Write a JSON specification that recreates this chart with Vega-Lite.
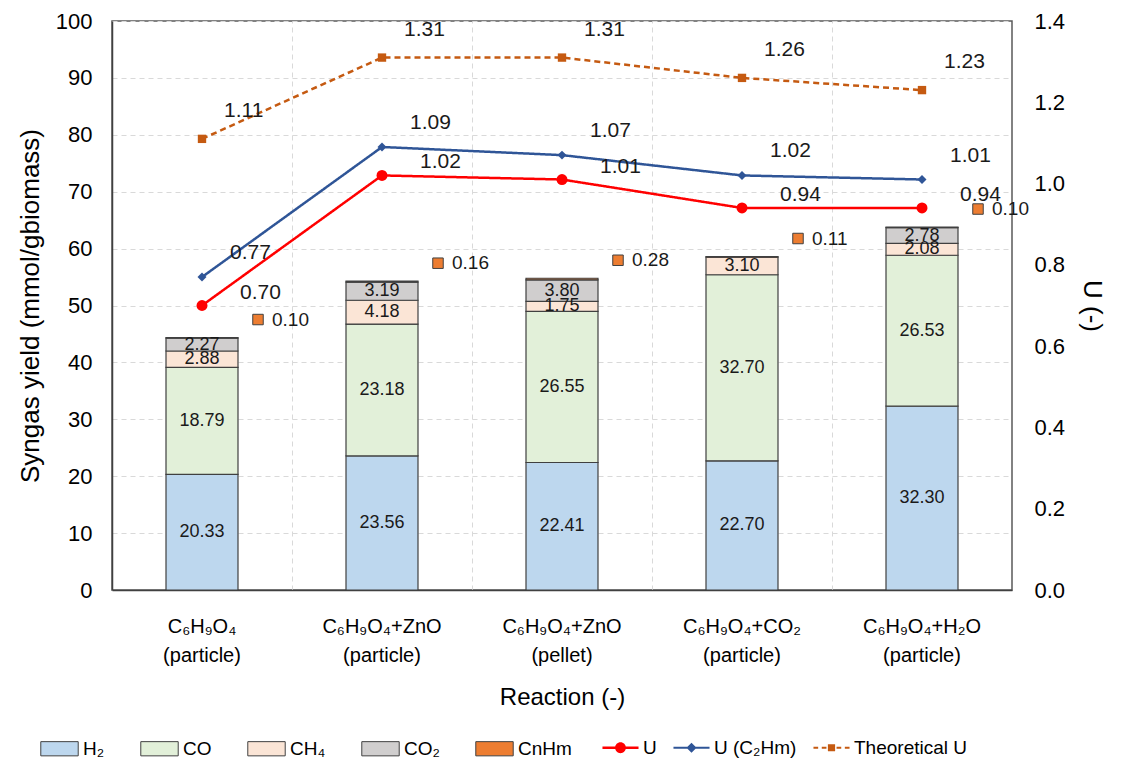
{
  "$schema": "https://vega.github.io/schema/vega-lite/v6.json",
  "width": 900,
  "height": 569,
  "padding": {"left": 17, "top": 10, "right": 10, "bottom": 5},
  "config": {
    "view": {"stroke": "#595959", "strokeWidth": 1.5},
    "font": "Liberation Sans",
    "axis": {"labelFont": "Liberation Sans", "titleFont": "Liberation Sans", "labelColor": "#000000", "titleColor": "#000000", "titleFontWeight": "normal"},
    "legend": {"labelFont": "Liberation Sans", "labelFontSize": 19, "labelColor": "#000000", "direction": "horizontal", "title": null, "labelOffset": 4}
  },
  "datasets": {
    "bars": [
      {"cat": "C₆H₉O₄\n(particle)", "comp": "H₂", "v": 20.33},
      {"cat": "C₆H₉O₄\n(particle)", "comp": "CO", "v": 18.79},
      {"cat": "C₆H₉O₄\n(particle)", "comp": "CH₄", "v": 2.88},
      {"cat": "C₆H₉O₄\n(particle)", "comp": "CO₂", "v": 2.27},
      {"cat": "C₆H₉O₄\n(particle)", "comp": "CnHm", "v": 0.10},
      {"cat": "C₆H₉O₄+ZnO\n(particle)", "comp": "H₂", "v": 23.56},
      {"cat": "C₆H₉O₄+ZnO\n(particle)", "comp": "CO", "v": 23.18},
      {"cat": "C₆H₉O₄+ZnO\n(particle)", "comp": "CH₄", "v": 4.18},
      {"cat": "C₆H₉O₄+ZnO\n(particle)", "comp": "CO₂", "v": 3.19},
      {"cat": "C₆H₉O₄+ZnO\n(particle)", "comp": "CnHm", "v": 0.16},
      {"cat": "C₆H₉O₄+ZnO\n(pellet)", "comp": "H₂", "v": 22.41},
      {"cat": "C₆H₉O₄+ZnO\n(pellet)", "comp": "CO", "v": 26.55},
      {"cat": "C₆H₉O₄+ZnO\n(pellet)", "comp": "CH₄", "v": 1.75},
      {"cat": "C₆H₉O₄+ZnO\n(pellet)", "comp": "CO₂", "v": 3.80},
      {"cat": "C₆H₉O₄+ZnO\n(pellet)", "comp": "CnHm", "v": 0.28},
      {"cat": "C₆H₉O₄+CO₂\n(particle)", "comp": "H₂", "v": 22.70},
      {"cat": "C₆H₉O₄+CO₂\n(particle)", "comp": "CO", "v": 32.70},
      {"cat": "C₆H₉O₄+CO₂\n(particle)", "comp": "CH₄", "v": 3.10},
      {"cat": "C₆H₉O₄+CO₂\n(particle)", "comp": "CO₂", "v": 0},
      {"cat": "C₆H₉O₄+CO₂\n(particle)", "comp": "CnHm", "v": 0.11},
      {"cat": "C₆H₉O₄+H₂O\n(particle)", "comp": "H₂", "v": 32.30},
      {"cat": "C₆H₉O₄+H₂O\n(particle)", "comp": "CO", "v": 26.53},
      {"cat": "C₆H₉O₄+H₂O\n(particle)", "comp": "CH₄", "v": 2.08},
      {"cat": "C₆H₉O₄+H₂O\n(particle)", "comp": "CO₂", "v": 2.78},
      {"cat": "C₆H₉O₄+H₂O\n(particle)", "comp": "CnHm", "v": 0.10}
    ],
    "lines": [
      {"cat": "C₆H₉O₄\n(particle)", "series": "U", "u": 0.70},
      {"cat": "C₆H₉O₄+ZnO\n(particle)", "series": "U", "u": 1.02},
      {"cat": "C₆H₉O₄+ZnO\n(pellet)", "series": "U", "u": 1.01},
      {"cat": "C₆H₉O₄+CO₂\n(particle)", "series": "U", "u": 0.94},
      {"cat": "C₆H₉O₄+H₂O\n(particle)", "series": "U", "u": 0.94},
      {"cat": "C₆H₉O₄\n(particle)", "series": "U (C₂Hm)", "u": 0.77},
      {"cat": "C₆H₉O₄+ZnO\n(particle)", "series": "U (C₂Hm)", "u": 1.09},
      {"cat": "C₆H₉O₄+ZnO\n(pellet)", "series": "U (C₂Hm)", "u": 1.07},
      {"cat": "C₆H₉O₄+CO₂\n(particle)", "series": "U (C₂Hm)", "u": 1.02},
      {"cat": "C₆H₉O₄+H₂O\n(particle)", "series": "U (C₂Hm)", "u": 1.01},
      {"cat": "C₆H₉O₄\n(particle)", "series": "Theoretical U", "u": 1.11},
      {"cat": "C₆H₉O₄+ZnO\n(particle)", "series": "Theoretical U", "u": 1.31},
      {"cat": "C₆H₉O₄+ZnO\n(pellet)", "series": "Theoretical U", "u": 1.31},
      {"cat": "C₆H₉O₄+CO₂\n(particle)", "series": "Theoretical U", "u": 1.26},
      {"cat": "C₆H₉O₄+H₂O\n(particle)", "series": "Theoretical U", "u": 1.23}
    ]
  },
  "layer": [
    {
      "data": {"name": "bars"},
      "transform": [
        {"calculate": "indexof(['H₂','CO','CH₄','CO₂','CnHm'], datum.comp)", "as": "k"},
        {"stack": "v", "groupby": ["cat"], "sort": [{"field": "k", "order": "ascending"}], "as": ["y0", "y1"]},
        {"calculate": "(datum.y0 + datum.y1) / 2", "as": "ym"}
      ],
      "layer": [
        {
          "mark": {"type": "bar", "size": 72, "stroke": "#404040", "strokeWidth": 1.2},
          "encoding": {
            "x": {"field": "cat", "type": "nominal", "sort": null,
              "scale": {"paddingInner": 0, "paddingOuter": 0},
              "axis": {"labelExpr": "split(datum.label, '\\n')", "labelAngle": 0, "labelFont": "Liberation Sans", "labelFontSize": 20, "labelPadding": 26, "labelLineHeight": 29, "ticks": false, "domainColor": "#404040", "domainWidth": 1.5, "title": "Reaction (-)", "titleFont": "Liberation Sans", "titleFontSize": 24, "titlePadding": 20, "grid": false}},
            "y": {"field": "y0", "type": "quantitative",
              "scale": {"domain": [0, 100], "nice": false},
              "axis": {"title": "Syngas yield (mmol/gbiomass)", "values": [0, 10, 20, 30, 40, 50, 60, 70, 80, 90, 100], "grid": true, "gridDash": [5, 4], "gridColor": "#D9D9D9", "domainColor": "#404040", "domainWidth": 1.5, "ticks": false, "labelFontSize": 22, "labelPadding": 20, "titleFontSize": 26, "titlePadding": 12}},
            "y2": {"field": "y1"},
            "color": {"field": "comp", "type": "nominal",
              "scale": {"domain": ["H₂", "CO", "CH₄", "CO₂", "CnHm"], "range": ["#BDD7EE", "#E2F0D9", "#FBE5D6", "#D0CECE", "#ED7D31"]},
              "legend": {"orient": "none", "legendX": -72, "legendY": 708, "direction": "horizontal", "columns": 5, "columnPadding": 33, "symbolType": "M-1,-0.38H1V0.38H-1Z", "symbolSize": 1400, "symbolStrokeColor": "#404040", "symbolStrokeWidth": 1, "symbolOpacity": 1}}
          }
        },
        {
          "transform": [{"filter": "datum.comp !== 'CnHm' && datum.v > 0"}],
          "mark": {"type": "text", "fontSize": 18, "color": "#1a1a1a"},
          "encoding": {
            "x": {"field": "cat", "type": "nominal", "sort": null},
            "y": {"field": "ym", "type": "quantitative"},
            "text": {"field": "v", "type": "quantitative", "format": ".2f"}
          }
        },
        {
          "transform": [{"filter": "datum.comp === 'CnHm'"}],
          "mark": {"type": "point", "shape": "square", "filled": true, "size": 110, "color": "#ED7D31", "stroke": "#404040", "strokeWidth": 1, "opacity": 1, "xOffset": 56, "yOffset": -18},
          "encoding": {
            "x": {"field": "cat", "type": "nominal", "sort": null},
            "y": {"field": "y1", "type": "quantitative"}
          }
        },
        {
          "transform": [{"filter": "datum.comp === 'CnHm'"}],
          "mark": {"type": "text", "fontSize": 19, "align": "left", "dx": 70, "dy": -18, "color": "#1a1a1a"},
          "encoding": {
            "x": {"field": "cat", "type": "nominal", "sort": null},
            "y": {"field": "y1", "type": "quantitative"},
            "text": {"field": "v", "type": "quantitative", "format": ".2f"}
          }
        }
      ]
    },
    {
      "data": {"name": "lines"},
      "layer": [
        {
          "mark": {"type": "line", "strokeWidth": 2.5},
          "encoding": {
            "x": {"field": "cat", "type": "nominal", "sort": null,
              "axis": {"grid": true, "bandPosition": 0, "gridDash": [5, 4], "gridColor": "#D9D9D9", "labels": false, "ticks": false, "domain": false, "title": null}},
            "y": {"field": "u", "type": "quantitative",
              "scale": {"domain": [0, 1.4], "nice": false},
              "axis": {"orient": "right", "title": "U (-)", "values": [0, 0.2, 0.4, 0.6, 0.8, 1.0, 1.2, 1.4], "format": ".1f", "grid": false, "ticks": false, "domain": false, "labelFontSize": 22, "labelPadding": 22, "titleFontSize": 26, "titlePadding": 14}},
            "color": {"field": "series", "type": "nominal",
              "scale": {"domain": ["U", "U (C₂Hm)", "Theoretical U"], "range": ["#FF0000", "#2F5597", "#C55A11"]},
              "legend": {"orient": "none", "legendX": 490, "legendY": 708, "direction": "horizontal", "columns": 3, "columnPadding": 16, "symbolSize": 1300, "symbolStrokeWidth": 2.5,
                "encode": {"symbols": {"update": {
                  "shape": {"signal": "datum.value === 'U' ? 'M-1,-0.065H1V0.065H-1ZM0.3,0A0.3,0.3,0,1,1,-0.3,0A0.3,0.3,0,1,1,0.3,0Z' : datum.value === 'U (C₂Hm)' ? 'M-1,-0.055H1V0.055H-1ZM0,-0.28L0.28,0L0,0.28L-0.28,0Z' : 'M-1,-0.055H-0.74V0.055H-1ZM-0.54,-0.055H-0.28V0.055H-0.54ZM0.28,-0.055H0.54V0.055H0.28ZM0.74,-0.055H1V0.055H0.74ZM-0.2,-0.2H0.2V0.2H-0.2Z'"},
                  "fill": {"signal": "datum.value === 'U' ? '#FF0000' : datum.value === 'U (C₂Hm)' ? '#2F5597' : '#C55A11'"},
                  "stroke": {"value": "transparent"},
                  "strokeWidth": {"value": 0},
                  "fillOpacity": {"value": 1},
                  "opacity": {"value": 1}
                }}}}},
            "strokeDash": {"field": "series", "type": "nominal",
              "scale": {"domain": ["U", "U (C₂Hm)", "Theoretical U"], "range": [[1, 0], [1, 0], [6, 4]]}, "legend": null}
          }
        },
        {
          "transform": [{"filter": "datum.series === 'U'"}],
          "mark": {"type": "point", "filled": true, "opacity": 1, "shape": "circle", "size": 120, "fill": "#FF0000", "stroke": null},
          "encoding": {
            "x": {"field": "cat", "type": "nominal", "sort": null},
            "y": {"field": "u", "type": "quantitative"}
          }
        },
        {
          "transform": [{"filter": "datum.series === 'U (C₂Hm)'"}],
          "mark": {"type": "point", "filled": true, "opacity": 1, "shape": "diamond", "size": 80, "fill": "#2F5597", "stroke": null},
          "encoding": {
            "x": {"field": "cat", "type": "nominal", "sort": null},
            "y": {"field": "u", "type": "quantitative"}
          }
        },
        {
          "transform": [{"filter": "datum.series === 'Theoretical U'"}],
          "mark": {"type": "point", "filled": true, "opacity": 1, "shape": "square", "size": 70, "fill": "#C55A11", "stroke": null},
          "encoding": {
            "x": {"field": "cat", "type": "nominal", "sort": null},
            "y": {"field": "u", "type": "quantitative"}
          }
        },
        {
          "transform": [{"filter": "datum.series === 'U'"}],
          "mark": {"type": "text", "fontSize": 21, "align": "left", "dx": 38, "dy": -13, "color": "#1a1a1a"},
          "encoding": {
            "x": {"field": "cat", "type": "nominal", "sort": null},
            "y": {"field": "u", "type": "quantitative"},
            "text": {"field": "u", "type": "quantitative", "format": ".2f"}
          }
        },
        {
          "transform": [{"filter": "datum.series === 'U (C₂Hm)'"}],
          "mark": {"type": "text", "fontSize": 21, "align": "left", "dx": 28, "dy": -24, "color": "#1a1a1a"},
          "encoding": {
            "x": {"field": "cat", "type": "nominal", "sort": null},
            "y": {"field": "u", "type": "quantitative"},
            "text": {"field": "u", "type": "quantitative", "format": ".2f"}
          }
        },
        {
          "transform": [{"filter": "datum.series === 'Theoretical U'"}],
          "mark": {"type": "text", "fontSize": 21, "align": "left", "dx": 22, "dy": -28, "color": "#1a1a1a"},
          "encoding": {
            "x": {"field": "cat", "type": "nominal", "sort": null},
            "y": {"field": "u", "type": "quantitative"},
            "text": {"field": "u", "type": "quantitative", "format": ".2f"}
          }
        }
      ]
    }
  ],
  "resolve": {"scale": {"y": "independent", "color": "independent", "strokeDash": "independent"}, "axis": {"x": "independent"}}
}
